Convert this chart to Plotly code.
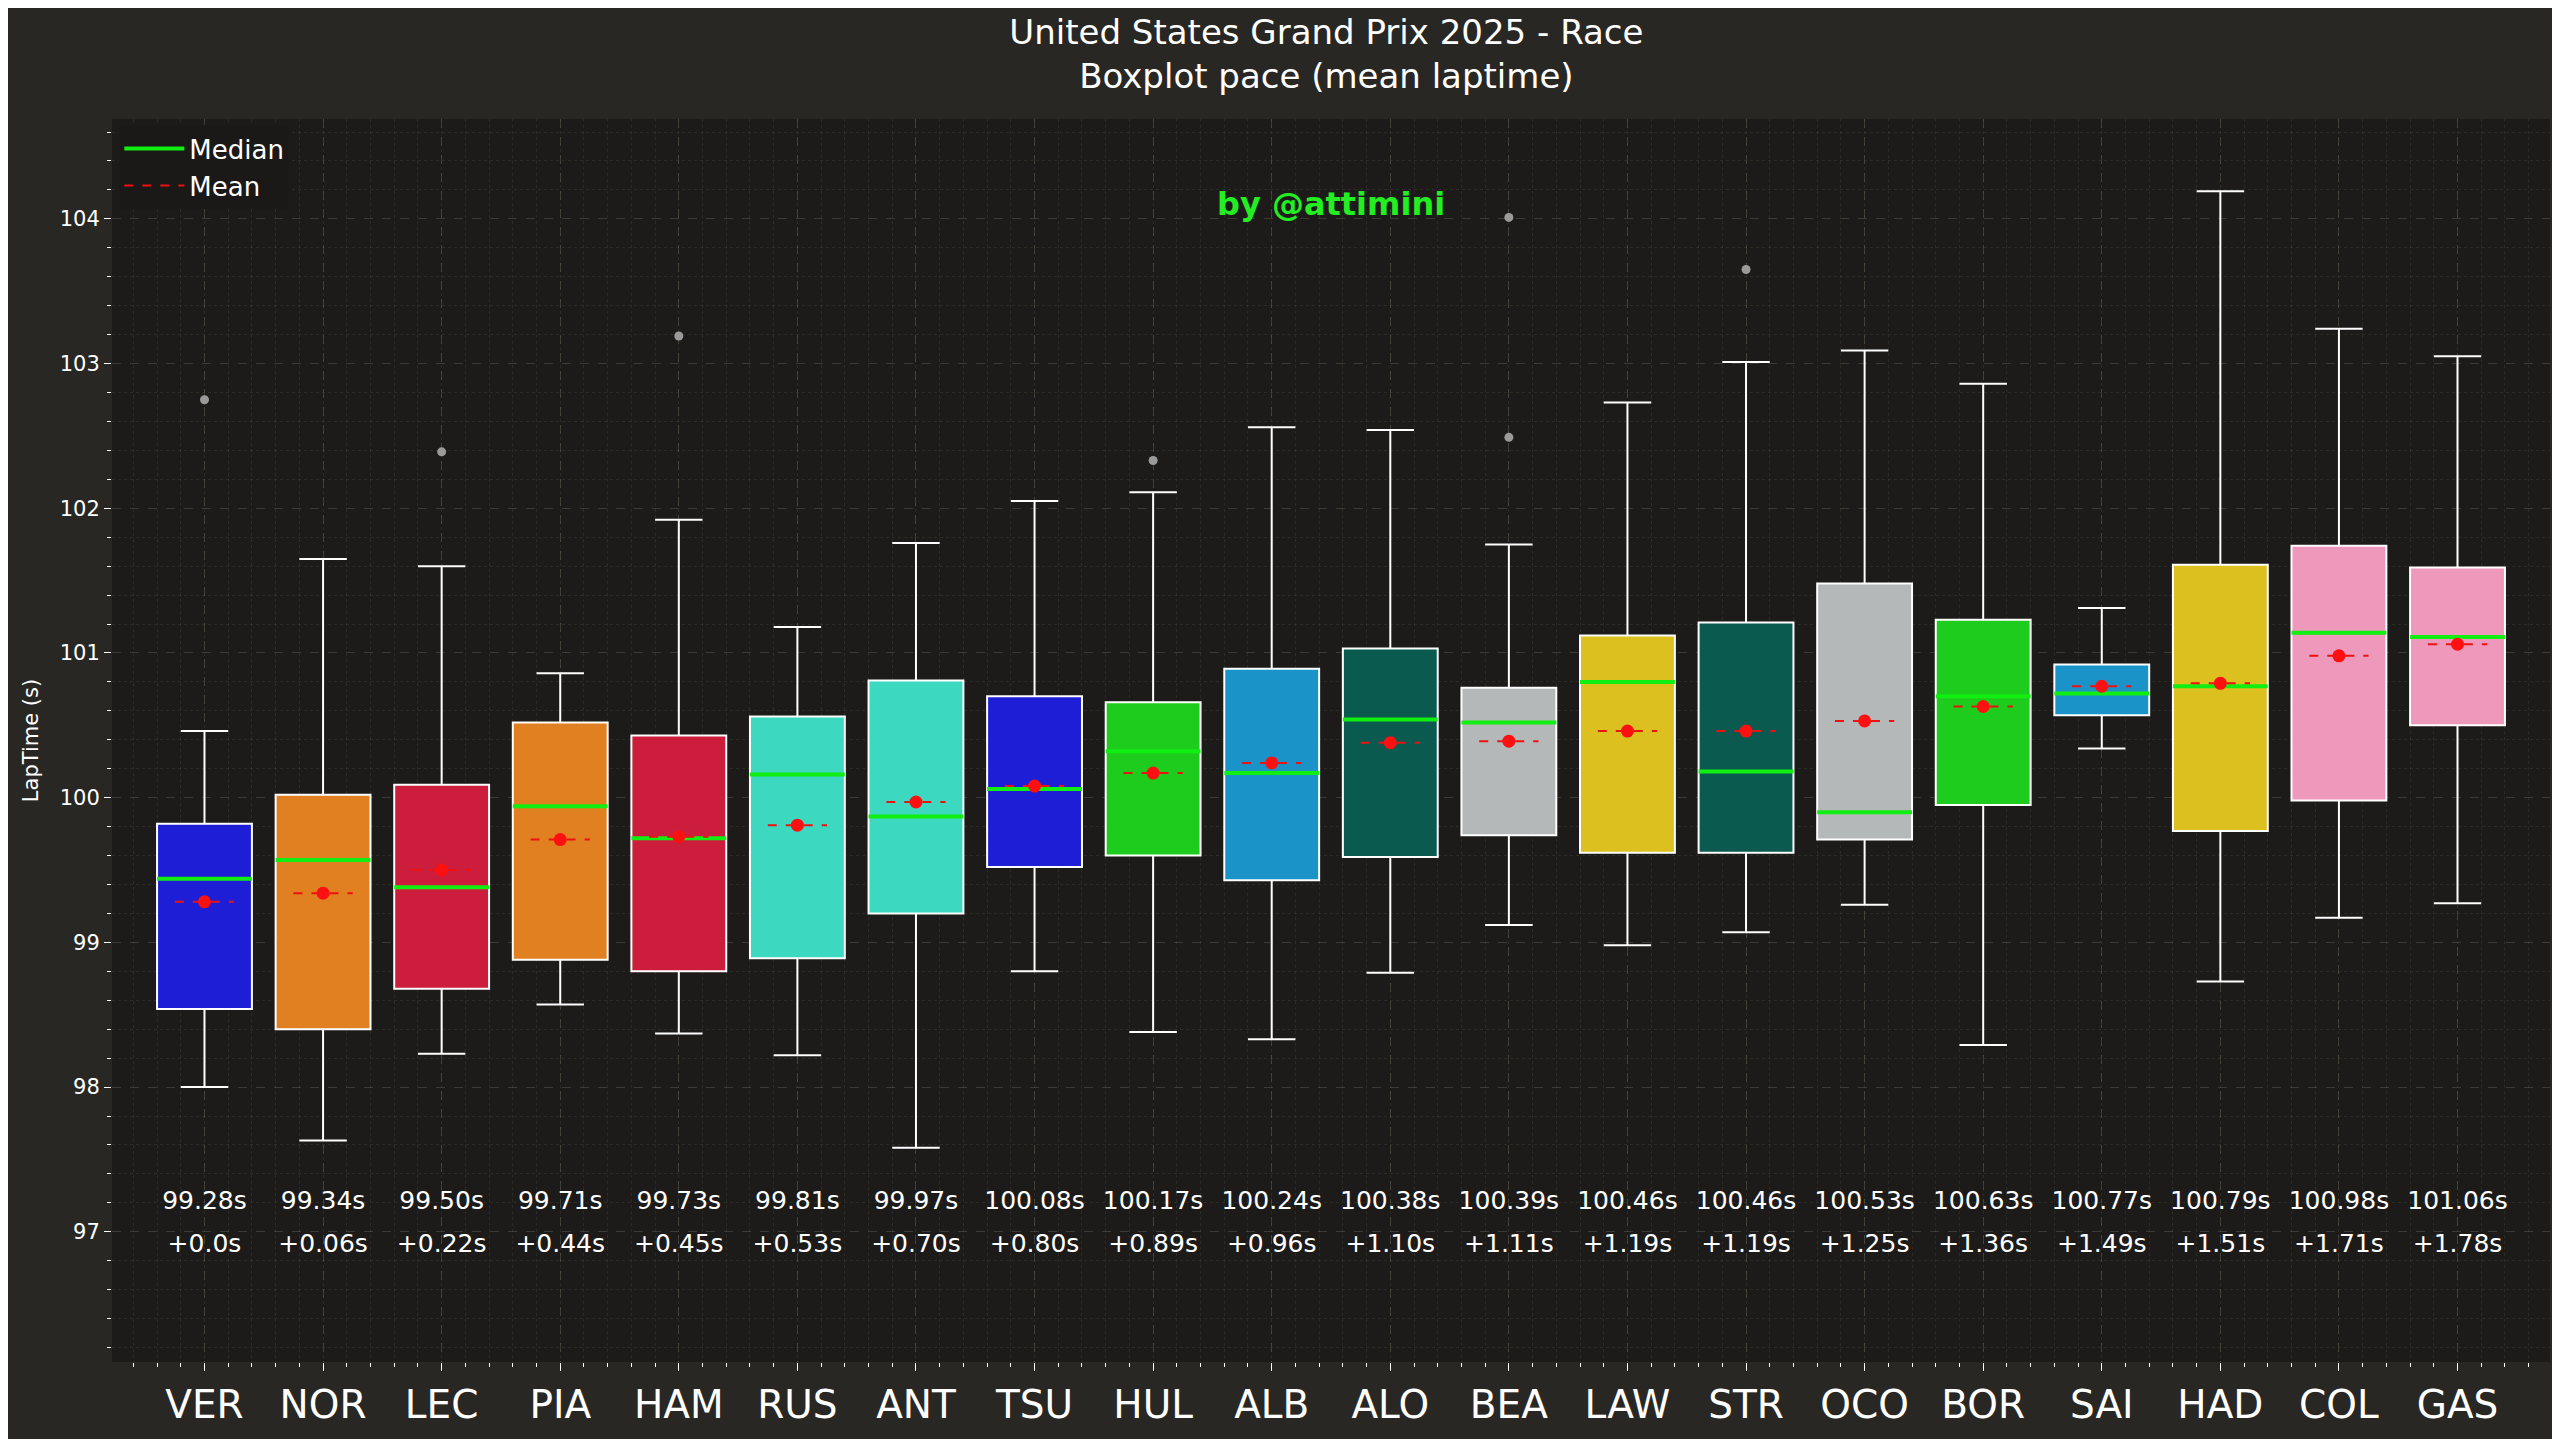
import plotly.graph_objects as go

drivers = ["VER","NOR","LEC","PIA","HAM","RUS","ANT","TSU","HUL","ALB","ALO","BEA","LAW","STR","OCO","BOR","SAI","HAD","COL","GAS"]
upper = [100.46,101.65,101.60,100.86,101.92,101.18,101.76,102.05,102.11,102.56,102.54,101.75,102.73,103.01,103.09,102.86,101.31,104.19,103.24,103.05]
q3 = [99.82,100.02,100.09,100.52,100.43,100.56,100.81,100.70,100.66,100.89,101.03,100.76,101.12,101.21,101.48,101.23,100.92,101.61,101.74,101.59]
median = [99.44,99.57,99.38,99.94,99.72,100.16,99.87,100.06,100.32,100.17,100.54,100.52,100.80,100.18,99.90,100.70,100.72,100.77,101.14,101.11]
q1 = [98.54,98.40,98.68,98.88,98.80,98.89,99.20,99.52,99.60,99.43,99.59,99.74,99.62,99.62,99.71,99.95,100.57,99.77,99.98,100.50]
lower = [98.00,97.63,98.23,98.57,98.37,98.22,97.58,98.80,98.38,98.33,98.79,99.12,98.98,99.07,99.26,98.29,100.34,98.73,99.17,99.27]
mean = [99.28,99.34,99.50,99.71,99.73,99.81,99.97,100.08,100.17,100.24,100.38,100.39,100.46,100.46,100.53,100.63,100.77,100.79,100.98,101.06]
delta_labels = ["+0.0s","+0.06s","+0.22s","+0.44s","+0.45s","+0.53s","+0.70s","+0.80s","+0.89s","+0.96s",
                "+1.10s","+1.11s","+1.19s","+1.19s","+1.25s","+1.36s","+1.49s","+1.51s","+1.71s","+1.78s"]
outlier_driver = ["VER","LEC","HAM","HUL","BEA","BEA","STR"]
outlier_value = [102.75,102.39,103.19,102.33,104.01,102.49,103.65]
colors = ["#1e1ed6","#e08020","#cc1e3c","#e08020","#cc1e3c","#3cd8c0","#3cd8c0","#1e1ed6","#1ecc1e","#1a94c8",
          "#0a5a50","#b4b8b8","#dcc020","#0a5a50","#b4b8b8","#1ecc1e","#1a94c8","#dcc020","#ee98bc","#ee98bc"]

fig = go.Figure()
xs = list(range(len(drivers)))
for i, d in enumerate(drivers):
    fig.add_trace(go.Box(x=[i], q1=[q1[i]], median=[median[i]], q3=[q3[i]], lowerfence=[lower[i]],
                         upperfence=[upper[i]], fillcolor=colors[i], line=dict(color="white", width=2),
                         width=0.8, whiskerwidth=0.5, showlegend=False, hoverinfo="skip"))
mx, my = [], []
for i in xs:
    mx += [i-0.4, i+0.4, None]; my += [median[i], median[i], None]
fig.add_trace(go.Scatter(x=mx, y=my, mode="lines", line=dict(color="#11ee11", width=4), name="Median"))
ex, ey = [], []
for i in xs:
    ex += [i-0.25, i+0.25, None]; ey += [mean[i], mean[i], None]
fig.add_trace(go.Scatter(x=ex, y=ey, mode="lines", line=dict(color="#ee1111", width=2, dash="dash"), name="Mean"))
fig.add_trace(go.Scatter(x=xs, y=mean, mode="markers", marker=dict(color="#ff1010", size=13), showlegend=False))
fig.add_trace(go.Scatter(x=[drivers.index(d) for d in outlier_driver], y=outlier_value, mode="markers",
                         marker=dict(color="#9a9a9a", size=9), showlegend=False))
fig.add_trace(go.Scatter(x=xs, y=[97.2]*len(xs), mode="text", text=[f"{m:.2f}s" for m in mean],
                         textfont=dict(color="white", size=25, family="DejaVu Sans"), showlegend=False))
fig.add_trace(go.Scatter(x=xs, y=[96.9]*len(xs), mode="text", text=delta_labels,
                         textfont=dict(color="white", size=25, family="DejaVu Sans"), showlegend=False))

grid = "rgba(120,120,100,0.35)"
fig.update_layout(
    width=2560, height=1439,
    paper_bgcolor="#282724", plot_bgcolor="#1c1b1a",
    font=dict(family="DejaVu Sans", color="white"),
    title=dict(text="United States Grand Prix 2025 - Race<br>Boxplot pace (mean laptime)", x=0.515, xanchor="center",
               y=0.975, yanchor="top", font=dict(size=34, color="white")),
    margin=dict(l=104, r=18, t=111, b=85),
    legend=dict(x=0.003, y=0.995, xanchor="left", yanchor="top", bgcolor="#1a1918", font=dict(size=26),
                itemwidth=60, tracegroupgap=4),
    annotations=[dict(text="<b>by @attimini</b>", x=0.5, xref="paper", y=104.1, yref="y", showarrow=False,
                      font=dict(size=32, color="#22ee22"))],
)
fig.update_xaxes(range=[-0.78, len(drivers)-0.22], tickmode="array", tickvals=xs, ticktext=drivers,
                 tickfont=dict(size=39), showgrid=True, gridcolor=grid, griddash="dash", zeroline=False,
                 ticks="outside", tickcolor="white", ticklen=8,
                 minor=dict(dtick=0.2, showgrid=True, gridcolor="rgba(120,120,100,0.18)", griddash="dot",
                            ticks="outside", ticklen=4, tickcolor="white"))
fig.update_yaxes(range=[96.1, 104.69], dtick=1, tick0=97, tickfont=dict(size=21),
                 title=dict(text="LapTime (s)", font=dict(size=21)),
                 showgrid=True, gridcolor=grid, griddash="dash", zeroline=False,
                 ticks="outside", tickcolor="white", ticklen=7,
                 minor=dict(dtick=0.2, showgrid=True, gridcolor="rgba(120,120,100,0.18)", griddash="dot",
                            ticks="outside", ticklen=4, tickcolor="white"))
fig.write_html("out.html")
